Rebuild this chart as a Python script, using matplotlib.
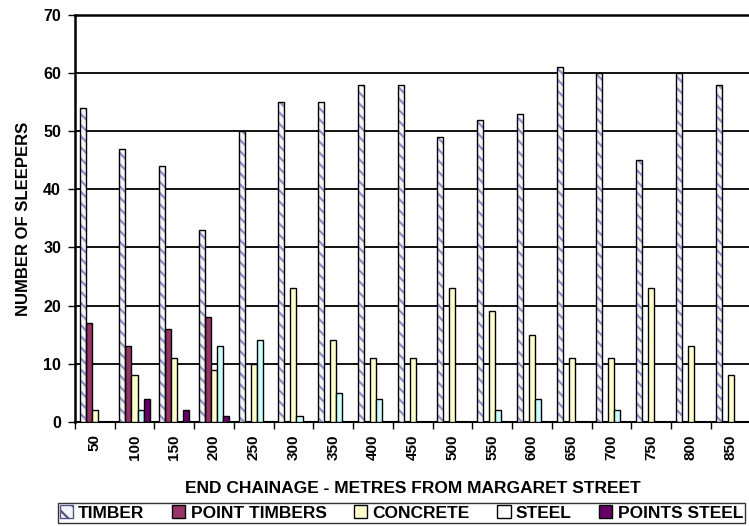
import numpy as np
import matplotlib.pyplot as plt
from matplotlib.patches import Patch

## Datos
chainage = ['50', '100', '150', '200', '250', '300', '350', '400', '450',
            '500', '550', '600', '650', '700', '750', '800', '850']
timber = [54, 47, 44, 33, 50, 55, 55, 58, 58, 49, 52, 53, 61, 60, 45, 60, 58]
point_timbers = [17, 13, 16, 18, 0, 0, 0, 0, 0, 0, 0, 0, 0, 0, 0, 0, 0]
concrete = [2, 8, 11, 9, 10, 23, 14, 11, 11, 23, 19, 15, 11, 11, 23, 13, 8]
steel = [0, 2, 0, 13, 14, 1, 5, 4, 0, 0, 2, 4, 0, 2, 0, 0, 0]
points_steel = [0, 4, 2, 1, 0, 0, 0, 0, 0, 0, 0, 0, 0, 0, 0, 0, 0]

plt.rcParams['font.family'] = ['Liberation Sans', 'DejaVu Sans']
plt.rcParams['font.weight'] = 'bold'
plt.rcParams['hatch.linewidth'] = 1.6

fig = plt.figure(figsize=(7.49, 5.26), dpi=100)
ax = fig.add_axes([0.100, 0.198, 0.902, 0.7735])

x = np.arange(len(chainage))
w = 0.152
offs = [-2*w, -w, 0, w, 2*w]

## Timber con rayado
ax.bar(x + offs[0], timber, w, color='#f4f4fb', edgecolor='#9090c4', hatch='\\\\\\', linewidth=0, zorder=3)
ax.bar(x + offs[0], timber, w, facecolor='none', edgecolor='black', linewidth=1.0, zorder=4)
ax.bar(x + offs[1], point_timbers, w, color='#993366', edgecolor='black', linewidth=1.0, zorder=3)
ax.bar(x + offs[2], concrete, w, color='#ffffcc', edgecolor='black', linewidth=1.0, zorder=3)
ax.bar(x + offs[3], steel, w, color='#ccffff', edgecolor='black', linewidth=1.0, zorder=3)
ax.bar(x + offs[4], points_steel, w, color='#660066', edgecolor='black', linewidth=1.0, zorder=3)

ax.set_xlim(-0.5, len(chainage) - 0.5)
ax.set_ylim(0, 70)
ax.set_yticks(range(0, 71, 10))
ax.grid(axis='y', color='black', linewidth=1.3, zorder=1)

ax.set_xticks(x)
ax.set_xticklabels(chainage, rotation=90, fontsize=11, fontweight='bold')
ax.set_xticks(np.arange(-0.5, len(chainage), 1), minor=True)
ax.tick_params(axis='x', which='major', length=0, pad=9)
ax.tick_params(axis='x', which='minor', length=5, width=1, direction='out')
ax.tick_params(axis='y', labelsize=11.5, length=5, width=1, direction='out', pad=5)
for lab in ax.get_yticklabels():
    lab.set_fontweight('bold')

ax.spines['right'].set_visible(False)
ax.spines['left'].set_linewidth(1.8)
ax.spines['top'].set_linewidth(1.8)
ax.spines['bottom'].set_linewidth(1.5)

ax.set_ylabel('NUMBER OF SLEEPERS', fontsize=12, fontweight='bold', labelpad=9)
ax.set_xlabel('END CHAINAGE - METRES FROM MARGARET STREET', fontsize=12.5,
              fontweight='bold', labelpad=15)

handles = [Patch(facecolor='#f4f4fb', edgecolor='#555588', hatch='\\\\'),
           Patch(facecolor='#993366', edgecolor='black'),
           Patch(facecolor='#ffffcc', edgecolor='black'),
           Patch(facecolor='#ffffff', edgecolor='black'),
           Patch(facecolor='#660066', edgecolor='black')]
labels = ['TIMBER', 'POINT TIMBERS', 'CONCRETE', 'STEEL', 'POINTS STEEL']
leg = fig.legend(handles, labels, loc='lower center', bbox_to_anchor=(0.536, 0.006),
                 ncol=5, fontsize=12.5, frameon=True, fancybox=False,
                 handlelength=0.75, handleheight=0.75, handletextpad=0.3,
                 columnspacing=1.6, borderpad=0.12, borderaxespad=0)
leg.get_frame().set_edgecolor('black')
leg.get_frame().set_linewidth(1.0)

plt.savefig('out.png', dpi=100)
